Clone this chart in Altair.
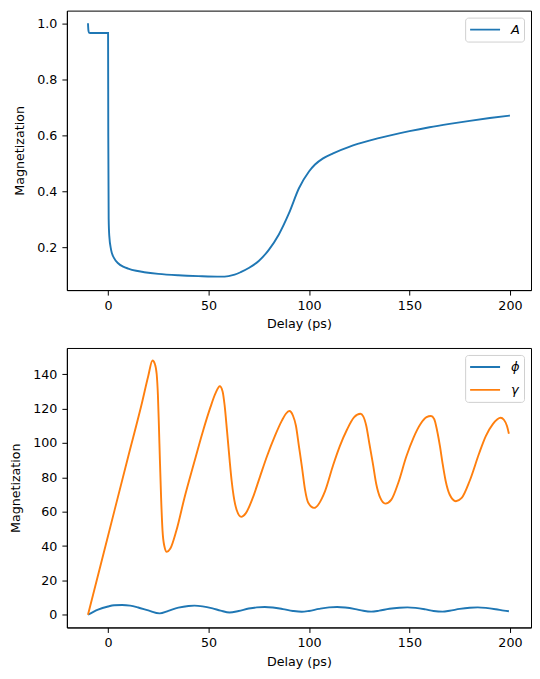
import altair as alt
import pandas as pd

# ---- top panel: A ----
a_x = [-10, -9.8, -9.5, -9, 0, 0.1, 0.3, 0.6, 1.5, 3, 5, 7.5, 10, 14, 18, 25, 35, 45,
       56, 60, 63, 66, 70, 75, 80, 85, 90, 95, 100, 103, 107, 112, 120, 130, 140, 150,
       160, 170, 180, 190, 200]
a_y = [1.0, 0.975, 0.966, 0.965, 0.965, 0.6, 0.3, 0.24, 0.19, 0.16, 0.142, 0.13, 0.123,
       0.115, 0.11, 0.104, 0.099, 0.096, 0.094, 0.096, 0.101, 0.11, 0.125, 0.15, 0.19,
       0.245, 0.32, 0.41, 0.47, 0.495, 0.517, 0.535, 0.558, 0.58, 0.598, 0.614, 0.628,
       0.64, 0.651, 0.661, 0.67]

# ---- bottom panel: phi and gamma ----
phi_x = [-10, -5, 0, 3, 7, 11, 15, 20, 25.7, 30, 35, 40, 43, 47, 52, 56, 60.5, 65, 70,
         74, 78, 82, 87, 92, 96.4, 100, 105, 110, 114, 118, 123, 127, 131, 135, 140, 145,
         149, 153, 158, 162, 166.5, 170, 175, 180, 184, 188, 193, 197, 199.5]
phi_y = [0, 3.0, 4.8, 5.5, 5.7, 5.3, 4.2, 2.5, 0.8, 2.3, 4.1, 5.1, 5.3, 4.9, 3.7, 2.4,
         1.3, 2.2, 3.6, 4.3, 4.5, 4.2, 3.3, 2.2, 1.7, 2.2, 3.4, 4.3, 4.5, 4.2, 3.3, 2.3,
         1.8, 2.4, 3.5, 4.1, 4.3, 4.0, 3.1, 2.2, 1.8, 2.3, 3.4, 4.1, 4.3, 4.0, 3.2, 2.4, 2.0]

gam_x = [-10, 0, 10, 17, 20, 22.1, 23.3, 24.2, 24.8, 25.3, 25.8, 26.4, 27.1, 28, 29.2,
         31, 34, 38, 42.7, 47, 51, 53.5, 55.6, 57, 58, 59.2, 60.5, 61.5, 62.5, 64, 66.3,
         68.5, 72, 75.5, 79, 83, 86.5, 88.5, 90.2, 92, 93.5, 95, 96.5, 98, 99.7, 102.5,
         108, 112, 115.3, 119, 122.5, 125.6, 127, 128.5, 130, 131.8, 133.5, 135.5, 138,
         141, 144.5, 148.4, 152, 155.5, 158.5, 160.7, 162.3, 163.8, 165.2, 166.5, 168, 170,
         173.1, 176, 180, 184.7, 188, 191.5, 195.4, 197, 198.5, 199.5]
gam_y = [0, 46, 92, 124, 139, 148, 146, 140, 128, 110, 90, 68, 49, 40, 36.6,
         38.5, 49, 68, 88, 106, 121, 129, 133, 130, 122, 107, 90, 78, 69, 61, 57,
         59, 68, 80, 92, 104, 113, 117, 118.6, 116, 110, 98, 86, 73, 65, 62.2,
         72, 87, 98, 108, 115, 117, 115.5, 110, 100, 88, 76, 68, 64.7,
         67, 77, 92, 103, 111, 115, 115.7, 114, 107, 98, 88, 78, 70,
         66.1, 68, 78, 94, 104, 111, 114.7, 113.5, 110, 105.4]

x_ticks = [0, 50, 100, 150, 200]
top_y_ticks = [0.2, 0.4, 0.6, 0.8, 1.0]
bot_y_ticks = [0, 20, 40, 60, 80, 100, 120, 140]

df_top = pd.DataFrame({"x": a_x, "y": a_y, "s": "A"})
df_bot = pd.concat([
    pd.DataFrame({"x": phi_x, "y": phi_y, "s": "ϕ", "o": 0}),
    pd.DataFrame({"x": gam_x, "y": gam_y, "s": "γ", "o": 1}),
])

FONT = "DejaVu Sans"
FS = 12.7
LW = 1.9

def legend():
    return alt.Legend(
        title=None, orient="top-right", offset=7, symbolType="stroke",
        symbolStrokeWidth=LW, symbolSize=900, clipHeight=16,
        labelFontStyle="italic", labelFontSize=13, labelFont=FONT, labelColor="black",
        fillColor="white", strokeColor="#d0d0d0", cornerRadius=3,
        padding=4, rowPadding=7, labelOffset=10,
    )

x_enc = alt.X("x:Q", scale=alt.Scale(domain=[-20.5, 210.5], nice=False, zero=False),
              axis=alt.Axis(values=x_ticks, title="Delay (ps)"))

top = alt.Chart(df_top).mark_line(strokeWidth=LW, interpolate="monotone").encode(
    x=x_enc,
    y=alt.Y("y:Q", scale=alt.Scale(domain=[0.046, 1.045], nice=False, zero=False),
            axis=alt.Axis(values=top_y_ticks, format=".1f", title="Magnetization")),
    color=alt.Color("s:N", scale=alt.Scale(domain=["A"], range=["#1f77b4"]), legend=legend()),
).properties(width=465, height=280)

bot = alt.Chart(df_bot).mark_line(strokeWidth=LW, interpolate="monotone").encode(
    x=x_enc,
    y=alt.Y("y:Q", scale=alt.Scale(domain=[-7.4, 155.3], nice=False, zero=False),
            axis=alt.Axis(values=bot_y_ticks, format="d", title="Magnetization")),
    color=alt.Color("s:N", scale=alt.Scale(domain=["ϕ", "γ"], range=["#1f77b4", "#ff7f0e"]),
                    legend=legend()),
    order=alt.Order("o:Q"),
).properties(width=465, height=280)

chart = alt.vconcat(top, bot, spacing=16).resolve_scale(
    color="independent", x="independent", y="independent"
).resolve_legend(color="independent").properties(
    padding={"left": 1, "top": 1, "right": 0, "bottom": 0}
).configure_view(stroke="black", strokeWidth=1).configure_axis(
    grid=False, domainColor="black", tickColor="black", tickSize=5,
    labelFont=FONT, labelFontSize=FS, labelColor="black", labelPadding=4,
    titleFont=FONT, titleFontSize=FS, titleFontWeight="normal", titleColor="black",
    titlePadding=6,
).configure_axisY(labelPadding=5, titlePadding=10)

chart.save("out.html", embed_options={"renderer": "svg", "actions": False})
